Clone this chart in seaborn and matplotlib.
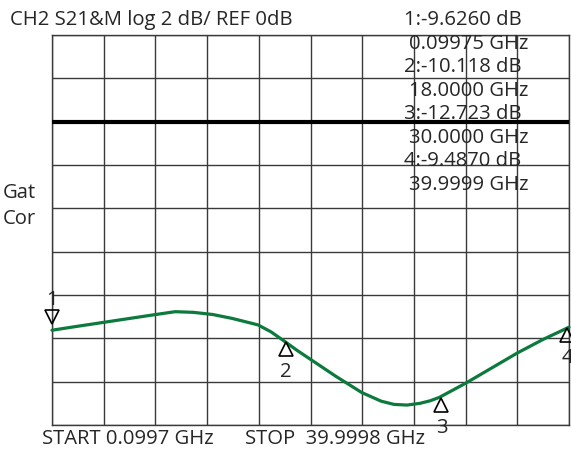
import matplotlib
matplotlib.use("Agg")
import matplotlib.pyplot as plt
import matplotlib.transforms as mtransforms
import seaborn as sns
import pandas as pd
import numpy as np

# ---- data ----
freq_ghz = [0.0997, 2, 4, 6, 8, 9.6, 11, 12.5, 14, 16, 17, 18, 19, 20, 22, 24,
            25.5, 26.5, 27.5, 28.5, 29.3, 30, 32, 34, 36, 38, 40]
s21_db = [-9.626, -9.45, -9.27, -9.09, -8.91, -8.77, -8.80, -8.90, -9.08, -9.38,
          -9.70, -10.118, -10.55, -10.95, -11.75, -12.50, -12.90, -13.05, -13.08,
          -13.00, -12.88, -12.723, -12.08, -11.38, -10.68, -10.05, -9.487]
marker_ids = ["1", "2", "3", "4"]
marker_freq = [0.09975, 18.0, 30.0, 39.9999]
marker_db = [-9.626, -10.118, -12.723, -9.487]
marker_lines = ["1:-9.6260 dB", "0.09975 GHz", "2:-10.118 dB", "18.0000 GHz",
                "3:-12.723 dB", "30.0000 GHz", "4:-9.4870 dB", "39.9999 GHz"]
title_text = "CH2 S21&M log 2 dB/ REF 0dB"
start_text = "START 0.0997 GHz"
stop_text = "STOP  39.9998 GHz"
side_text = ["Gat", "Cor"]

sns.set_style("white")
plt.rcParams['font.family'] = ['Open Sans', 'DejaVu Sans']

fig = plt.figure(figsize=(5.71, 4.49), dpi=100)
ax = fig.add_axes([52 / 571, 1 - 425 / 449, (569 - 52) / 571, (425 - 35) / 449])

df = pd.DataFrame({"f": freq_ghz, "db": s21_db})
sns.lineplot(data=df, x="f", y="db", ax=ax, color="#0b7a3c", linewidth=2.3,
             zorder=5, clip_on=False)

ax.set_xlim(0.0997, 40)
ax.set_ylim(-14, 4)
ax.set_xticks(np.linspace(0.0997, 40, 11))
ax.set_yticks(np.arange(-14, 5, 2))
ax.grid(True, color="#3a3a3a", linewidth=1.0)
ax.axhline(0, color="black", linewidth=3.0, zorder=4)
ax.tick_params(length=0, labelbottom=False, labelleft=False)
for s in ax.spines.values():
    s.set_color("#3a3a3a")
    s.set_linewidth(1.0)
ax.set_xlabel("")
ax.set_ylabel("")

fs = 14.6
fig.text(10 / 571, 1 - 20 / 449, title_text, fontsize=fs, va="center", ha="left")
ys = [20, 44, 67, 91, 114, 138, 161, 185]
for i, (t, y) in enumerate(zip(marker_lines, ys)):
    x = 404 if i % 2 == 0 else 409
    fig.text(x / 571, 1 - y / 449, t, fontsize=fs, va="center", ha="left")
fig.text(3 / 571, 1 - 193 / 449, side_text[0], fontsize=fs, va="center", ha="left")
fig.text(3 / 571, 1 - 219 / 449, side_text[1], fontsize=fs, va="center", ha="left")
fig.text(42 / 571, 1 - 439 / 449, start_text, fontsize=fs, va="center", ha="left")
fig.text(245 / 571, 1 - 439 / 449, stop_text, fontsize=fs, va="center", ha="left")

# markers
for mid, mf, md in zip(marker_ids, marker_freq, marker_db):
    if mid == "1":
        tr = mtransforms.offset_copy(ax.transData, fig=fig, x=0, y=13, units="dots")
        ax.plot([mf], [md], marker="v", ms=10.5, mfc="none", mec="black", mew=1.2,
                transform=tr, clip_on=False, zorder=6)
        tr2 = mtransforms.offset_copy(ax.transData, fig=fig, x=0, y=30, units="dots")
        ax.text(mf, md, mid, transform=tr2, fontsize=fs, ha="center", va="center",
                clip_on=False, zorder=7)
    else:
        dx = 2 if mid != "4" else -2
        tr = mtransforms.offset_copy(ax.transData, fig=fig, x=dx, y=-8, units="dots")
        ax.plot([mf], [md], marker="^", ms=10.5, mfc="none", mec="black", mew=1.2,
                transform=tr, clip_on=False, zorder=6)
        tr2 = mtransforms.offset_copy(ax.transData, fig=fig, x=dx, y=-31, units="dots")
        ax.text(mf, md, mid, transform=tr2, fontsize=fs, ha="center", va="center",
                clip_on=False, zorder=7)

fig.savefig("out.png", dpi=100)
